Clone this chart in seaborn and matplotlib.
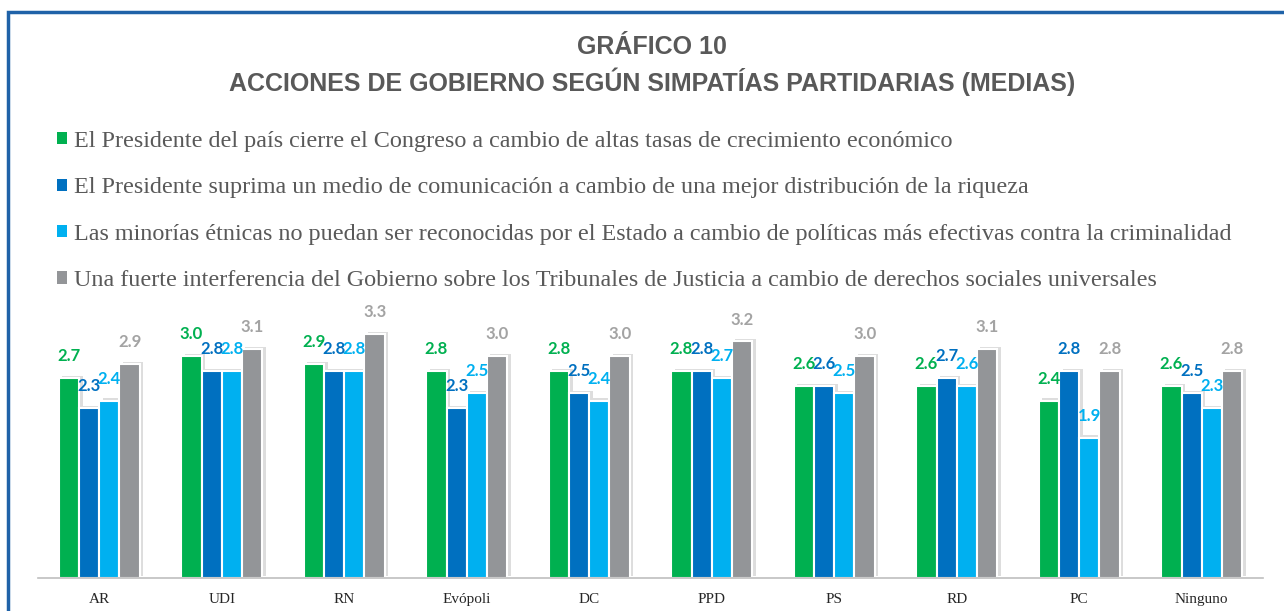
import numpy as np
import pandas as pd
import matplotlib
matplotlib.use("Agg")
import matplotlib.pyplot as plt
import matplotlib.patheffects as pe
from matplotlib.patches import Patch, Rectangle
import seaborn as sns

# Datos del gráfico
partidos = ["AR", "UDI", "RN", "Evópoli", "DC", "PPD", "PS", "RD", "PC", "Ninguno"]
series = [
    "El Presidente del país cierre el Congreso a cambio de altas tasas de crecimiento económico",
    "El Presidente suprima un medio de comunicación a cambio de una mejor distribución de la riqueza",
    "Las minorías étnicas no puedan ser reconocidas por el Estado a cambio de políticas más efectivas contra la criminalidad",
    "Una fuerte interferencia del Gobierno sobre los Tribunales de Justicia a cambio de derechos sociales universales",
]
cierre_congreso = [2.7, 3.0, 2.9, 2.8, 2.8, 2.8, 2.6, 2.6, 2.4, 2.6]
suprimir_medio = [2.3, 2.8, 2.8, 2.3, 2.5, 2.8, 2.6, 2.7, 2.8, 2.5]
minorias = [2.4, 2.8, 2.8, 2.5, 2.4, 2.7, 2.5, 2.6, 1.9, 2.3]
tribunales = [2.9, 3.1, 3.3, 3.0, 3.0, 3.2, 3.0, 3.1, 2.8, 2.8]

colores = ["#00B050", "#0070C0", "#00B0F0", "#939598"]
colores_etiqueta = ["#00B050", "#0070C0", "#00B0F0", "#A3A3A3"]

valores = [cierre_congreso, suprimir_medio, minorias, tribunales]
df = pd.DataFrame({
    "Partido": partidos * 4,
    "Serie": [s for s in series for _ in partidos],
    "Media": [v for vals in valores for v in vals],
})

sns.set_style("white")
plt.rcParams["font.family"] = ["Liberation Serif", "DejaVu Sans"]

fig = plt.figure(figsize=(12.84, 6.11), dpi=100)
W, H = 1284, 611
ax = fig.add_axes([38 / W, 1 - 578 / H, (1263 - 38) / W, (578 - 300) / H])

sns.barplot(data=df, x="Partido", y="Media", hue="Serie", palette=colores,
            saturation=1, width=0.66, edgecolor="white", linewidth=1.5,
            errorbar=None, legend=False, ax=ax)

# sombra suave detrás de las barras
sombra = [pe.SimplePatchShadow(offset=(2.5, 1.5), shadow_rgbFace="#666666", alpha=0.22),
          pe.Normal()]
for patch in ax.patches:
    patch.set_path_effects(sombra)

# Etiquetas de datos
for i, cont in enumerate(ax.containers):
    ax.bar_label(cont, fmt="%.1f", padding=10, color=colores_etiqueta[i],
                 fontsize=12, fontweight="bold", family="Lato")

ax.set_ylim(0, 3.76)
ax.set_xlim(-0.5, 9.5)
ax.set_xlabel("")
ax.set_ylabel("")
ax.set_yticks([])
for lado in ["left", "right", "top"]:
    ax.spines[lado].set_visible(False)
ax.spines["bottom"].set_color("#BFBFBF")
ax.spines["bottom"].set_linewidth(1.2)
ax.set_xticks(np.arange(-0.5, 10, 1), minor=True)
ax.tick_params(axis="x", which="major", length=0, pad=11, labelsize=11, labelcolor="#262626")
ax.tick_params(axis="x", which="minor", length=5, color="#BFBFBF", width=1.2, direction="out")

# Títulos
fig.text(652 / W, 1 - 47 / H, "GRÁFICO 10", ha="center", va="center",
         fontsize=18, fontweight="bold", color="#595959", family="Liberation Sans")
fig.text(652 / W, 1 - 82 / H, "ACCIONES DE GOBIERNO SEGÚN SIMPATÍAS PARTIDARIAS (MEDIAS)",
         ha="center", va="center", fontsize=18, fontweight="bold", color="#595959",
         family="Liberation Sans")

# Leyenda
handles = [Patch(facecolor=c, edgecolor="none") for c in colores]
leg = fig.legend(handles, series, loc="upper left", bbox_to_anchor=(57 / W, 1 - 131 / H),
                 frameon=False, fontsize=17.4, labelspacing=1.05, handlelength=0.4,
                 handleheight=0.4, handletextpad=0.3, borderaxespad=0, borderpad=0)
for t in leg.get_texts():
    t.set_color("#595959")

# Marco azul
fig.add_artist(Rectangle((8 / W, -0.1), 1.2, 1 - 12 / H + 0.1, transform=fig.transFigure,
                         fill=False, edgecolor="#1F62A8", linewidth=2.5))

fig.savefig("out.png", dpi=100)
